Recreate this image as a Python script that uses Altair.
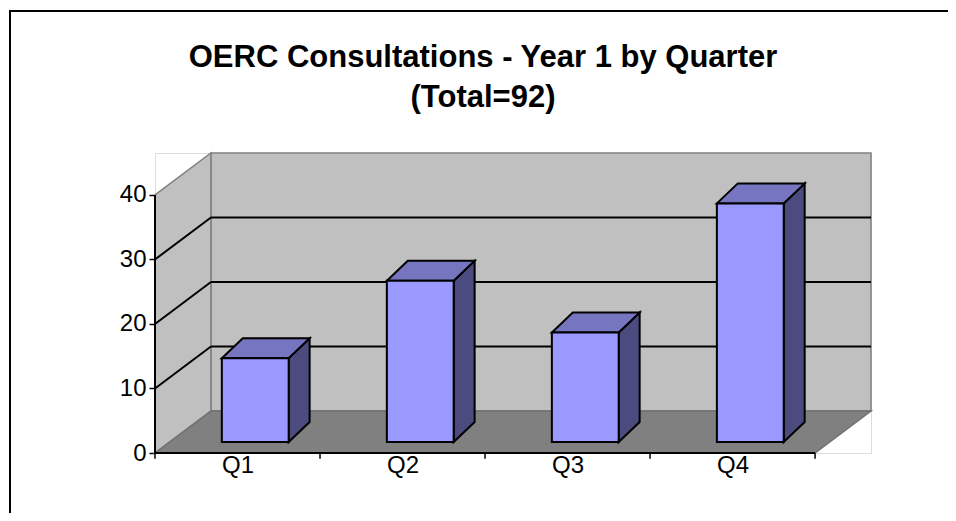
import altair as alt
import pandas as pd

# ---- data ----
quarters = ["Q1", "Q2", "Q3", "Q4"]
consultations = [13, 25, 17, 37]
y_ticks = [0, 10, 20, 30, 40]
grid_values = [10, 20, 30]
title_lines = ["OERC Consultations - Year 1 by Quarter", "(Total=92)"]

# ---- 3-D projection constants (data units) ----
n = len(quarters)
YMAX = 40
DX = 0.339     # depth of the box along x (category widths)
DY = 6.5       # depth of the box along y (value units)
BAR_L, BAR_R = 0.405, 0.81   # bar front face within a category
F0 = 0.26                    # depth fraction of bar front face
BDX, BDY = 0.127, 3.1        # bar depth offsets

FONT = "Liberation Sans"

xs = alt.Scale(domain=[0, n + DX], nice=False, zero=False)
ys = alt.Scale(domain=[0, YMAX + DY], nice=False, zero=False)

label_expr = "[" + ",".join("'%s'" % q for q in quarters) + "][floor(datum.value)]"
x_axis = alt.Axis(values=[i + 0.5 for i in range(n)], labelExpr=label_expr,
                  ticks=False, domain=False, grid=False, title=None,
                  labelFont=FONT, labelFontSize=24, labelColor="black",
                  labelPadding=0)
y_axis = alt.Axis(values=y_ticks, domain=False, grid=False, title=None,
                  tickColor="black", tickSize=6, tickWidth=1.5,
                  labelFont=FONT, labelFontSize=24, labelColor="black",
                  labelPadding=3)


def X(f="x"):
    return alt.X(f + ":Q", scale=xs, axis=x_axis)


def Y(f="y"):
    return alt.Y(f + ":Q", scale=ys, axis=y_axis)


# ---- tables built from the arrays ----
back = pd.DataFrame({"x": [DX], "x2": [n + DX], "y": [DY], "y2": [YMAX + DY]})
left = pd.DataFrame({"x": [0, DX], "y": [0, DY], "y2": [YMAX, YMAX + DY]})
floor = pd.DataFrame({"y": [0, DY], "x": [0, DX], "x2": [n, n + DX]})
back_grid = pd.DataFrame({"y": [v + DY for v in grid_values],
                          "x": DX, "x2": n + DX})
left_grid = pd.DataFrame({"x": 0, "y": grid_values, "x2": DX,
                          "y2": [v + DY for v in grid_values]})
front_axis = pd.DataFrame({"x": [0], "y": [0], "y2": [YMAX]})
x_line = pd.DataFrame({"x": [0], "x2": [n], "y": [0]})
x_ticks = pd.DataFrame({"x": list(range(n + 1)), "y": 0, "y2": -0.9})

base_y = F0 * DY
fronts, sides, tops = [], [], []
for i, (q, v) in enumerate(zip(quarters, consultations)):
    x0, x1 = i + BAR_L, i + BAR_R
    y0, y1 = base_y, base_y + v
    fronts.append({"q": q, "x": x0, "x2": x1, "y": y0, "y2": y1})
    sides.append({"q": q, "x": x1, "y": y0, "y2": y1})
    sides.append({"q": q, "x": x1 + BDX, "y": y0 + BDY, "y2": y1 + BDY})
    tops.append({"q": q, "y": y1, "x": x0, "x2": x1})
    tops.append({"q": q, "y": y1 + BDY, "x": x0 + BDX, "x2": x1 + BDX})
fronts, sides, tops = pd.DataFrame(fronts), pd.DataFrame(sides), pd.DataFrame(tops)

frame = alt.Chart(pd.DataFrame({"a": [0]})).mark_rect(
    filled=False, stroke="black", strokeWidth=2
).encode(x=alt.value(-145), x2=alt.value(1000), y=alt.value(-142), y2=alt.value(600))

back_l = alt.Chart(back).mark_rect(fill="#C0C0C0", stroke="#808080", strokeWidth=1.5).encode(
    x=X(), x2="x2:Q", y=Y(), y2="y2:Q")
left_l = alt.Chart(left).mark_area(fill="#C0C0C0", stroke="#808080", strokeWidth=1.5).encode(
    x=X(), y=Y(), y2="y2:Q")
floor_l = alt.Chart(floor).mark_area(orient="horizontal", fill="#808080",
                                      stroke="#707070", strokeWidth=1.5).encode(
    y=Y(), x=X(), x2="x2:Q")
bgrid_l = alt.Chart(back_grid).mark_rule(color="black", strokeWidth=2).encode(
    x=X(), x2="x2:Q", y=Y())
lgrid_l = alt.Chart(left_grid).mark_rule(color="black", strokeWidth=2).encode(
    x=X(), x2="x2:Q", y=Y(), y2="y2:Q")

side_l = alt.Chart(sides).mark_area(fill="#4B4B7F", stroke="black", strokeWidth=2).encode(
    x=X(), y=Y(), y2="y2:Q", detail="q:N")
top_l = alt.Chart(tops).mark_area(orient="horizontal", fill="#7575C0",
                                   stroke="black", strokeWidth=2).encode(
    y=Y(), x=X(), x2="x2:Q", detail="q:N")
front_l = alt.Chart(fronts).mark_rect(fill="#9999FF", stroke="black", strokeWidth=2).encode(
    x=X(), x2="x2:Q", y=Y(), y2="y2:Q")

faxis_l = alt.Chart(front_axis).mark_rule(color="black", strokeWidth=2).encode(
    x=X(), y=Y(), y2="y2:Q")
xline_l = alt.Chart(x_line).mark_rule(color="black", strokeWidth=2).encode(
    x=X(), x2="x2:Q", y=Y())
xticks_l = alt.Chart(x_ticks).mark_rule(color="black", strokeWidth=1.5).encode(
    x=X(), y=Y(), y2="y2:Q")

chart = alt.layer(
    frame, back_l, left_l, floor_l, bgrid_l, lgrid_l,
    side_l, top_l, front_l, faxis_l, xline_l, xticks_l
).properties(
    width=716, height=300,
    autosize=alt.AutoSizeParams(type="none"),
    padding={"left": 147, "top": 145, "right": 77, "bottom": 60},
    title=alt.TitleParams(text=title_lines, font=FONT, fontSize=31, fontWeight="bold",
                          color="black", anchor="middle", frame="group",
                          dx=-30, dy=104, lineHeight=40, offset=0),
).configure_view(strokeWidth=0, stroke="transparent").configure(background="white")

chart.save("out.html", embed_options={"renderer": "svg", "actions": False})
